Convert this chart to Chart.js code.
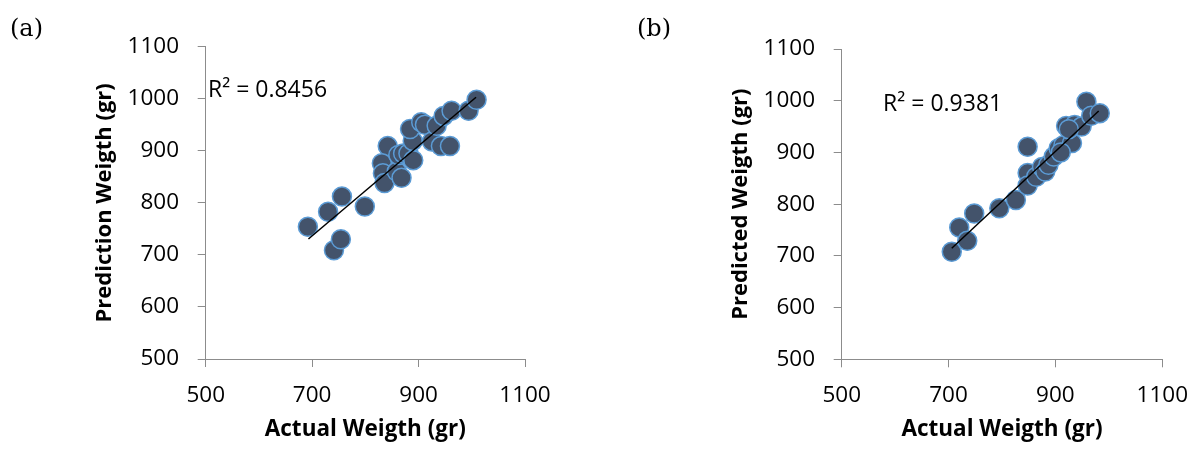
<!DOCTYPE html>
<html><head><meta charset="utf-8">
<script src="https://cdn.jsdelivr.net/npm/chart.js@4/dist/chart.umd.min.js"></script>
<style>
html,body{margin:0;padding:0;background:#fff;width:1203px;height:450px;overflow:hidden;}
.wrap{position:absolute;top:0;height:450px;}
.lbl{position:absolute;font-family:'DejaVu Serif','Liberation Serif',serif;font-size:24px;line-height:1;color:#000;}
</style></head>
<body>
<div class="wrap" style="left:0;width:601px"><canvas id="ca" width="601" height="450"></canvas></div>
<div class="wrap" style="left:601px;width:602px"><canvas id="cb" width="602" height="450"></canvas></div>
<div class="lbl" style="left:10px;top:16px;">(a)</div>
<div class="lbl" style="left:637px;top:16px;">(b)</div>
<script>
// Panel (a)
const actualA    = [692, 730, 756, 741, 754, 799, 842, 831, 833, 836, 859, 868, 862, 871, 881, 890, 889, 884, 905, 912, 925, 934, 942, 959, 947, 962, 994, 1009];
const predictedA = [754, 783, 812, 709, 730, 793, 909, 876, 857, 838, 860, 848, 892, 895, 895, 882, 919, 942, 955, 950, 918, 948, 909, 909, 967, 977, 977, 998];
const trendXA = [693, 1008];
const trendYA = [730.5, 1002.8];
const r2A = 'R² = 0.8456';
const r2PosA = [504.3, 1015.8];
// Panel (b)
const actualB    = [706, 720, 735, 748, 795, 826, 848, 848, 848, 864, 875, 881, 887, 897, 906, 915, 931, 920, 936, 949, 958, 967, 983, 910, 925];
const predictedB = [708, 755, 729, 782, 792, 808, 911, 860, 836, 853, 872, 863, 876, 892, 908, 914, 918, 951, 953, 950, 998, 971, 976, 900, 945];
const trendXB = [706, 981];
const trendYB = [714.6, 980];
const r2B = 'R² = 0.9381';
const r2PosB = [577.5, 993.6];
// Axes
const axisMin = 500, axisMax = 1100;
const xStep = 200, yStep = 100;
const xTitle = 'Actual Weigth (gr)';
const yTitleA = 'Prediction Weigth (gr)';
const yTitleB = 'Predicted Weigth (gr)';

const FONT = "'Open Sans','Noto Sans',sans-serif";
const AXIS_COLOR = '#8c8c8c';

const r2Plugin = {
  id: 'r2',
  afterDatasetsDraw(chart, args, opts) {
    const {ctx, scales} = chart;
    ctx.save();
    ctx.font = `23px ${FONT}`;
    ctx.fillStyle = '#000';
    ctx.textAlign = 'left';
    ctx.textBaseline = 'middle';
    ctx.fillText(opts.text, scales.x.getPixelForValue(opts.pos[0]), scales.y.getPixelForValue(opts.pos[1]));
    ctx.restore();
  }
};

function makeChart(id, xs, ys, tx, ty, yTitle, r2, r2Pos, geom) {
  const pts = xs.map((v, i) => ({x: v, y: ys[i]}));
  const trend = tx.map((v, i) => ({x: v, y: ty[i]}));
  return new Chart(document.getElementById(id), {
    type: 'scatter',
    data: {datasets: [
      {type: 'line', data: trend, borderColor: '#000', borderWidth: 1.5, pointRadius: 0, fill: false, order: 0},
      {data: pts, backgroundColor: '#43536b', borderColor: '#5b9bd5', borderWidth: 1.5, pointRadius: 9.5, order: 1}
    ]},
    options: {
      responsive: false, animation: false,
      layout: {padding: {left: 0, right: geom.right, top: geom.top, bottom: 0}},
      plugins: {legend: {display: false}, tooltip: {enabled: false}, r2: {text: r2, pos: r2Pos}},
      scales: {
        x: {
          type: 'linear', min: axisMin, max: axisMax,
          afterFit: s => { s.height = geom.xh; },
          ticks: {stepSize: xStep, color: '#000', font: {family: FONT, size: 22.5}, padding: 15, maxRotation: 0, callback: v => String(v)},
          grid: {drawOnChartArea: false, drawTicks: true, tickLength: 8, color: AXIS_COLOR},
          border: {display: true, color: AXIS_COLOR, width: 1},
          title: {display: true, text: xTitle, color: '#000', font: {family: FONT, size: 22.5, weight: 'bold'}, padding: {top: 0, bottom: 6.5}}
        },
        y: {
          type: 'linear', min: axisMin, max: axisMax,
          afterFit: s => { s.width = geom.yw; },
          ticks: {stepSize: yStep, color: '#000', font: {family: FONT, size: 22.5}, padding: geom.tp, callback: v => String(v)},
          grid: {drawOnChartArea: false, drawTicks: true, tickLength: 8, color: AXIS_COLOR},
          border: {display: true, color: AXIS_COLOR, width: 1},
          title: {display: true, text: yTitle, color: '#000', font: {family: FONT, size: 22, weight: 'bold'}, padding: {top: geom.ytp, bottom: 0}}
        }
      }
    },
    plugins: [r2Plugin]
  });
}

makeChart('ca', actualA, predictedA, trendXA, trendYA, yTitleA, r2A, r2PosA,
  {right: 76, top: 46.7, xh: 91, yw: 205.7, tp: 18.7, ytp: 91.8});
makeChart('cb', actualB, predictedB, trendXB, trendYB, yTitleB, r2B, r2PosB,
  {right: 34, top: 49, xh: 90.7, yw: 240.7, tp: 18.7, ytp: 126.8});
</script>
</body></html>
